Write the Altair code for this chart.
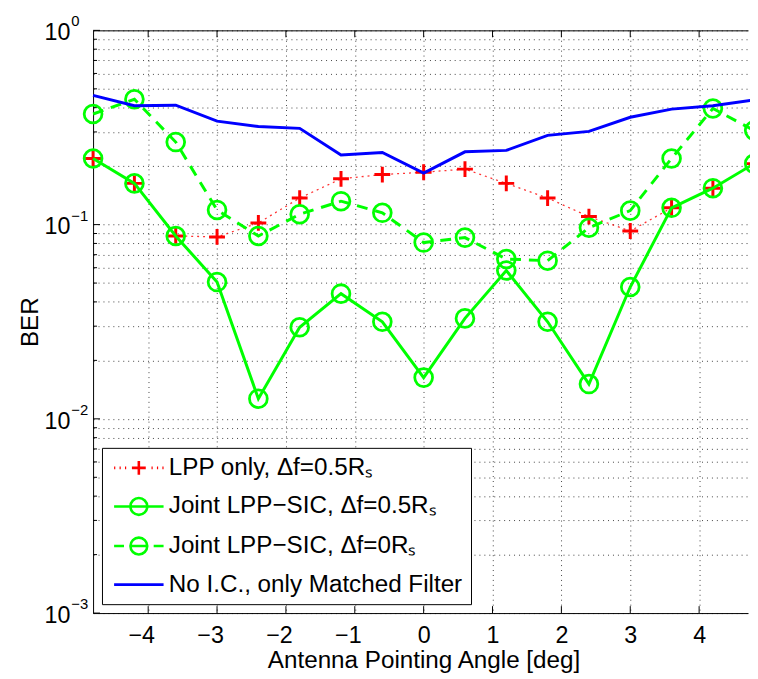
import altair as alt
import pandas as pd

# ---------------- data ----------------
angles = [-4.8, -4.2, -3.6, -3.0, -2.4, -1.8, -1.2, -0.6, 0.0, 0.6, 1.2, 1.8, 2.4, 3.0, 3.6, 4.2, 4.8]
ber_lpp = [0.219, 0.163, 0.0874, 0.0864, 0.102, 0.137, 0.172, 0.181, 0.186, 0.193, 0.163, 0.137, 0.110, 0.0927, 0.122, 0.154, 0.206]
ber_sic_05 = [0.219, 0.163, 0.0874, 0.0506, 0.0127, 0.0296, 0.0441, 0.0316, 0.0163, 0.0329, 0.058, 0.0316, 0.0151, 0.0477, 0.122, 0.154, 0.206]
ber_sic_0 = [0.371, 0.442, 0.266, 0.119, 0.0874, 0.113, 0.132, 0.115, 0.0808, 0.0857, 0.0665, 0.0652, 0.0964, 0.118, 0.219, 0.396, 0.305]
ber_mf = [0.463, 0.409, 0.412, 0.341, 0.320, 0.313, 0.228, 0.235, 0.184, 0.237, 0.241, 0.288, 0.302, 0.357, 0.393, 0.409, 0.439]

series_names = [
    "LPP only, \u0394f=0.5R\u209b",
    "Joint LPP\u2212SIC, \u0394f=0.5R\u209b",
    "Joint LPP\u2212SIC, \u0394f=0R\u209b",
    "No I.C., only Matched Filter",
]
series_colors = ["#ff0000", "#00ff00", "#00ff00", "#0000ff"]

x_ticks = [-4, -3, -2, -1, 0, 1, 2, 3, 4]
y_major = [1.0, 0.1, 0.01, 0.001]
y_exponents = ["0", "\u22121", "\u22122", "\u22123"]
y_minor = [0.002, 0.003, 0.004, 0.005, 0.006, 0.007, 0.008, 0.009,
           0.02, 0.03, 0.04, 0.05, 0.06, 0.07, 0.08, 0.09,
           0.2, 0.3, 0.4, 0.5, 0.6, 0.7, 0.8, 0.9]

FONT = "Liberation Sans"
FS = 23.5      # tick labels
FS_T = 24.5    # axis titles and legend
W, H = 662, 589

series_values = [ber_lpp, ber_sic_05, ber_sic_0, ber_mf]
rows = []
for name, vals in zip(series_names, series_values):
    for a, v in zip(angles, vals):
        rows.append({"angle": a, "ber": v, "series": name})
df = pd.DataFrame(rows)

xscale = alt.Scale(domain=[-4.8, 4.71], nice=False, zero=False)
yscale = alt.Scale(type="log", domain=[0.001, 1.0], nice=False)

def sub(name):
    return alt.Chart(df).transform_filter(alt.datum.series == name)

# ---------------- axes / grid ----------------
axis_layer = alt.Chart(df).mark_point(opacity=0).encode(
    x=alt.X("angle:Q", scale=xscale, axis=alt.Axis(
        orient="bottom", values=x_ticks, grid=True, gridDash=[1, 4], gridColor="#444",
        ticks=False, domainColor="black", labelFont=FONT, labelFontSize=FS, labelColor="black",
        labelPadding=11, labelOffset={"condition": {"test": "datum.value < 0", "value": -7}, "value": 0},
        title="Antenna Pointing Angle [deg]", titleFont=FONT, titleFontSize=FS_T, titleFontWeight="normal",
        titleColor="black", titleX=334, titleY=55, titleBaseline="alphabetic", titleAlign="center",
    )),
    y=alt.Y("ber:Q", scale=yscale, axis=alt.Axis(
        orient="left", values=y_major + y_minor, grid=True, gridDash=[1, 4], gridColor="#444",
        ticks=False, labels=False, domainColor="black",
        title="BER", titleFont=FONT, titleFontSize=FS_T, titleFontWeight="normal", titleColor="black",
        titleX=-63, titleY=H / 2, titleAngle=-90, titleBaseline="middle", titleAlign="center",
    )),
)

top_axis_layer = alt.Chart(df).mark_point(opacity=0).encode(
    x=alt.X("angle:Q", scale=xscale, axis=alt.Axis(
        orient="top", labels=False, ticks=False, grid=False, domainColor="black", title=None)),
    y=alt.Y("ber:Q", scale=yscale, axis=None),
)

df_xt = pd.DataFrame({"t": x_ticks})
df_ymaj = pd.DataFrame({"v": y_major, "e": y_exponents})
df_ymin = pd.DataFrame({"v": y_minor})

xt_bottom = alt.Chart(df_xt).mark_rule(color="black").encode(
    x=alt.X("t:Q", scale=xscale, axis=None), y=alt.value(H), y2=alt.value(H - 7))
xt_top = alt.Chart(df_xt).mark_rule(color="black").encode(
    x=alt.X("t:Q", scale=xscale, axis=None), y=alt.value(0), y2=alt.value(7))
yt_major = alt.Chart(df_ymaj).mark_rule(color="black").encode(
    y=alt.Y("v:Q", scale=yscale, axis=None), x=alt.value(0), x2=alt.value(7))
yt_minor = alt.Chart(df_ymin).mark_rule(color="black").encode(
    y=alt.Y("v:Q", scale=yscale, axis=None), x=alt.value(0), x2=alt.value(4))

ylab_base = alt.Chart(df_ymaj).mark_text(
    align="right", baseline="alphabetic", dy=10, font=FONT, fontSize=FS, color="black"
).encode(y=alt.Y("v:Q", scale=yscale, axis=None), x=alt.value(-23), text=alt.value("10"))
ylab_exp = alt.Chart(df_ymaj).mark_text(
    align="left", baseline="alphabetic", dy=-4, font=FONT, fontSize=15, color="black"
).encode(y=alt.Y("v:Q", scale=yscale, axis=None), x=alt.value(-22), text="e:N")

# ---------------- data series ----------------
enc = dict(x=alt.X("angle:Q", scale=xscale, axis=None), y=alt.Y("ber:Q", scale=yscale, axis=None))

lpp_line = sub(series_names[0]).mark_line(color="#ff0000", strokeWidth=1.3, strokeDash=[2, 4], opacity=0.8).encode(**enc)
lpp_pts = sub(series_names[0]).mark_point(
    shape="M-1,0L1,0M0,-1L0,1", size=256, strokeWidth=3, color="#ff0000", filled=False, opacity=1
).encode(**enc)

sic05_line = sub(series_names[1]).mark_line(color="#00ff00", strokeWidth=3).encode(**enc)
sic05_pts = sub(series_names[1]).mark_point(
    shape="circle", size=324, strokeWidth=2.8, color="#00ff00", filled=False, opacity=1
).encode(**enc)

sic0_line = sub(series_names[2]).mark_line(color="#00ff00", strokeWidth=3, strokeDash=[11, 8]).encode(**enc)
sic0_pts = sub(series_names[2]).mark_point(
    shape="circle", size=324, strokeWidth=2.8, color="#00ff00", filled=False, opacity=1
).encode(**enc)

mf_line = sub(series_names[3]).mark_line(color="#0000ff", strokeWidth=3).encode(**enc)

# ---------------- legend ----------------
# nominal symbol box is 20px (size 400); paths span +-2.5 units -> 50px wide
circ = "M-0.85,0A0.85,0.85 0 1,0 0.85,0A0.85,0.85 0 1,0 -0.85,0"
legend_paths = [
    "M-2.5,0L-2.38,0M-1.95,0L-1.83,0M-1.4,0L-1.28,0M1.28,0L1.4,0M1.83,0L1.95,0M2.38,0L2.5,0"
    "M-0.7,0L0.7,0M0,-0.7L0,0.7",
    "M-2.5,0L2.5,0" + circ,
    "M-2.5,0L-1.5,0M1.5,0L2.5,0M-0.85,0L0.85,0" + circ,
    "M-2.5,0L2.5,0",
]
df_leg = pd.DataFrame({"series": series_names})
leg_kw = dict(
    title=None, orient="bottom-left", offset=9, fillColor="white", strokeColor="black",
    padding=8, rowPadding=12, labelFont=FONT, labelFontSize=FS_T, labelColor="black",
    labelLimit=600, labelOffset=18, symbolOffset=17, symbolSize=400, symbolStrokeWidth=2.6,
    symbolOpacity=1,
)
legend_layer = alt.Chart(df_leg).mark_point(opacity=0, filled=False).encode(
    color=alt.Color("series:N", scale=alt.Scale(domain=series_names, range=series_colors),
                    legend=alt.Legend(**leg_kw)),
    shape=alt.Shape("series:N", scale=alt.Scale(domain=series_names, range=legend_paths),
                    legend=alt.Legend(**leg_kw)),
)

chart = alt.layer(
    axis_layer, top_axis_layer, xt_bottom, xt_top, yt_major, yt_minor, ylab_base, ylab_exp,
    lpp_line, lpp_pts, sic05_line, sic05_pts, sic0_line, sic0_pts, mf_line, legend_layer,
).resolve_axis(x="independent", y="independent").properties(
    width=W, height=H,
    autosize=alt.AutoSizeParams(type="none"),
    padding={"left": 86, "top": 19, "right": 2, "bottom": 60},
).configure(font=FONT).configure_view(stroke=None)

chart.save("out.html", embed_options={"renderer": "svg", "actions": False})
